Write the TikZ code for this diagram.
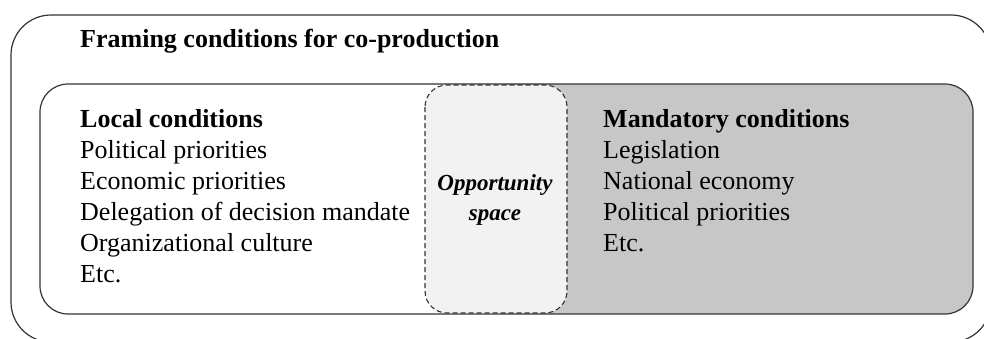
\documentclass[tikz,border=0pt]{standalone}
\usepackage{fontspec}
\setmainfont{Liberation Serif}
\begin{document}
\begin{tikzpicture}[x=1pt,y=-1pt,
  txt/.style={anchor=base west,inner sep=0pt,font=\fontsize{26}{31}\selectfont},
  hdr/.style={txt,font=\fontsize{26}{31}\selectfont\bfseries},
  opp/.style={anchor=base,inner sep=0pt,font=\fontsize{23}{28}\selectfont\bfseries\itshape},
  boxline/.style={draw=black!80,line width=1.2pt}]
\useasboundingbox (0,0) rectangle (984,338);
% outer frame
\draw[boxline,rounded corners=40pt] (11,15) rectangle (991,342);
% inner box
\begin{scope}
\clip[rounded corners=28pt] (40,84) rectangle (973,314);
\fill[white] (40,84) rectangle (973,314);
\fill[black!22] (500,84) rectangle (973,314);
\end{scope}
\draw[boxline,rounded corners=28pt] (40,84) rectangle (973,314);
% opportunity space
\draw[draw=black!80,line width=1.1pt,dash pattern=on 5pt off 3pt,fill=black!5,rounded corners=22pt] (425,85) rectangle (567,313);
% texts
\node[hdr] (frame) at (80,47) {Framing conditions for co-production};
\node[hdr] (loc) at (80,127) {Local conditions};
\node[txt] (l1) at (80,158) {Political priorities};
\node[txt] (l2) at (80,189) {Economic priorities};
\node[txt] (l3) at (80,220) {Delegation of decision mandate};
\node[txt] (l4) at (80,251) {Organizational culture};
\node[txt] (l5) at (80,282) {Etc.};
\node[hdr] (man) at (603,127) {Mandatory conditions};
\node[txt] (m1) at (603,158) {Legislation};
\node[txt] (m2) at (603,189) {National economy};
\node[txt] (m3) at (603,220) {Political priorities};
\node[txt] (m4) at (603,251) {Etc.};
\node[opp] (o1) at (495,190) {Opportunity};
\node[opp] (o2) at (495,220) {space};
\end{tikzpicture}
\end{document}
